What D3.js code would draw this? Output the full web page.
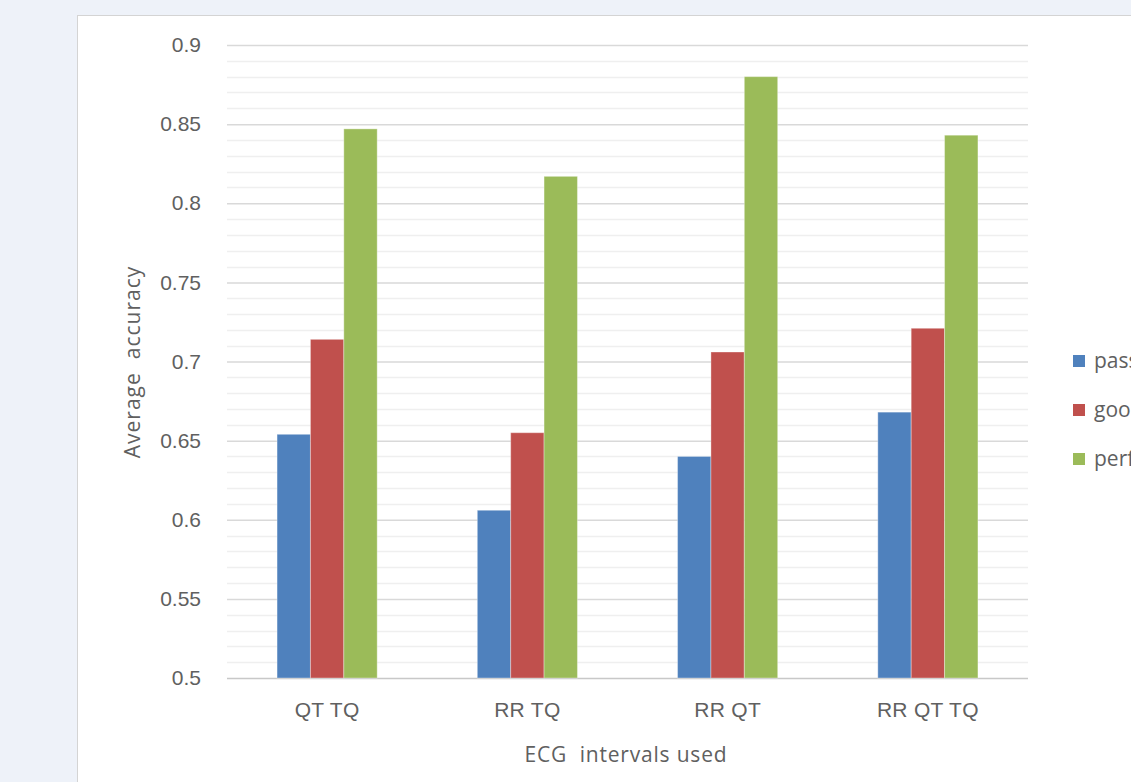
<!DOCTYPE html>
<html>
<head>
<meta charset="utf-8">
<script src="https://cdn.jsdelivr.net/npm/d3@7"></script>
<style>
  html, body { margin: 0; padding: 0; background: #eef2f9; overflow: hidden; }
  svg { display: block; font-family: "Open Sans", "Noto Sans", sans-serif; }
</style>
</head>
<body>
<div id="chart"></div>
<script>
// chart data
const categories = ['QT TQ', 'RR TQ', 'RR QT', 'RR QT TQ'];
const seriesNames = ['passable', 'good', 'perfect'];
const passable = [0.654, 0.606, 0.640, 0.668];
const good = [0.714, 0.655, 0.706, 0.721];
const perfect = [0.847, 0.817, 0.880, 0.843];
const yTicks = [0.5, 0.55, 0.6, 0.65, 0.7, 0.75, 0.8, 0.85, 0.9];
const colors = ['#4f81bd', '#c0504d', '#9bbb59'];

const values = [passable, good, perfect];
const data = categories.map((c, i) => ({
  cat: c,
  vals: seriesNames.map((s, j) => ({ key: s, value: values[j][i], color: colors[j] }))
}));

const width = 1131;
const height = 782;
const plot = { left: 227, right: 1028, top: 45, bottom: 678 };
const textColor = '#606060';
const fontSize = 21;

const svg = d3.select('#chart')
  .append('svg')
  .attr('width', width)
  .attr('height', height);

// white chart panel
svg.append('rect')
  .attr('x', 77.5)
  .attr('y', 15.5)
  .attr('width', width)
  .attr('height', height)
  .attr('fill', '#fff')
  .attr('stroke', '#d4d4d4');

const x0 = d3.scaleBand()
  .domain(categories)
  .range([plot.left, plot.right])
  .padding(0);

const x1 = d3.scaleBand()
  .domain(seriesNames)
  .range([0, x0.bandwidth()])
  .paddingInner(0)
  .paddingOuter(1.5);

const y = d3.scaleLinear()
  .domain([0.5, 0.9])
  .range([plot.bottom, plot.top]);

// minor gridlines every 0.01
const minor = d3.range(51, 90).map(v => v / 100).filter(v => Math.round(v * 100) % 5 !== 0);
svg.append('g')
  .selectAll('line')
  .data(minor)
  .join('line')
  .attr('x1', plot.left)
  .attr('x2', plot.right)
  .attr('y1', d => Math.round(y(d)) + 0.5)
  .attr('y2', d => Math.round(y(d)) + 0.5)
  .attr('stroke', '#efefef')
  .attr('stroke-width', 1.5);

// y axis with major gridlines
const yAxis = svg.append('g')
  .attr('transform', `translate(${plot.left},0)`)
  .call(d3.axisLeft(y)
    .tickValues(yTicks)
    .tickFormat(d => d3.format('')(+d.toFixed(2)))
    .tickSize(-(plot.right - plot.left))
    .tickPadding(26));
yAxis.select('.domain').remove();
yAxis.selectAll('.tick line')
  .attr('stroke', d => d === 0.5 ? '#c8c8c8' : '#d9d9d9')
  .attr('stroke-width', 1.5);
yAxis.selectAll('.tick text')
  .attr('fill', textColor)
  .attr('font-size', fontSize);

// bars
const groups = svg.append('g')
  .selectAll('g')
  .data(data)
  .join('g')
  .attr('transform', d => `translate(${x0(d.cat)},0)`);

groups.selectAll('rect')
  .data(d => d.vals)
  .join('rect')
  .attr('x', d => x1(d.key))
  .attr('y', d => y(d.value))
  .attr('width', x1.bandwidth())
  .attr('height', d => y(0.5) - y(d.value))
  .attr('fill', d => d.color)
  .attr('stroke', '#fff')
  .attr('stroke-opacity', 0.35)
  .attr('stroke-width', 1);

// x axis labels
const xAxis = svg.append('g')
  .attr('transform', `translate(0,${plot.bottom})`)
  .call(d3.axisBottom(x0).tickSize(0).tickPadding(24));
xAxis.select('.domain').remove();
xAxis.selectAll('.tick text')
  .attr('fill', textColor)
  .attr('font-size', fontSize)
  .attr('letter-spacing', 0.3);

// axis titles
svg.append('text')
  .attr('x', 626)
  .attr('y', 762)
  .attr('text-anchor', 'middle')
  .attr('fill', textColor)
  .attr('font-size', fontSize)
  .attr('letter-spacing', 0.8)
  .style('white-space', 'pre')
  .text('ECG  intervals used');

svg.append('text')
  .attr('transform', 'translate(140,362) rotate(-90)')
  .attr('text-anchor', 'middle')
  .attr('fill', textColor)
  .attr('font-size', fontSize)
  .attr('letter-spacing', 1)
  .style('white-space', 'pre')
  .text('Average  accuracy');

// legend (runs off the right edge, as in the original)
const legend = svg.append('g')
  .selectAll('g')
  .data(seriesNames)
  .join('g')
  .attr('transform', (d, i) => `translate(1073,${355 + i * 49})`);

legend.append('rect')
  .attr('width', 12)
  .attr('height', 12)
  .attr('fill', (d, i) => colors[i]);

legend.append('text')
  .attr('x', 21)
  .attr('y', 13)
  .attr('fill', textColor)
  .attr('font-size', fontSize)
  .text(d => d);
</script>
</body>
</html>
